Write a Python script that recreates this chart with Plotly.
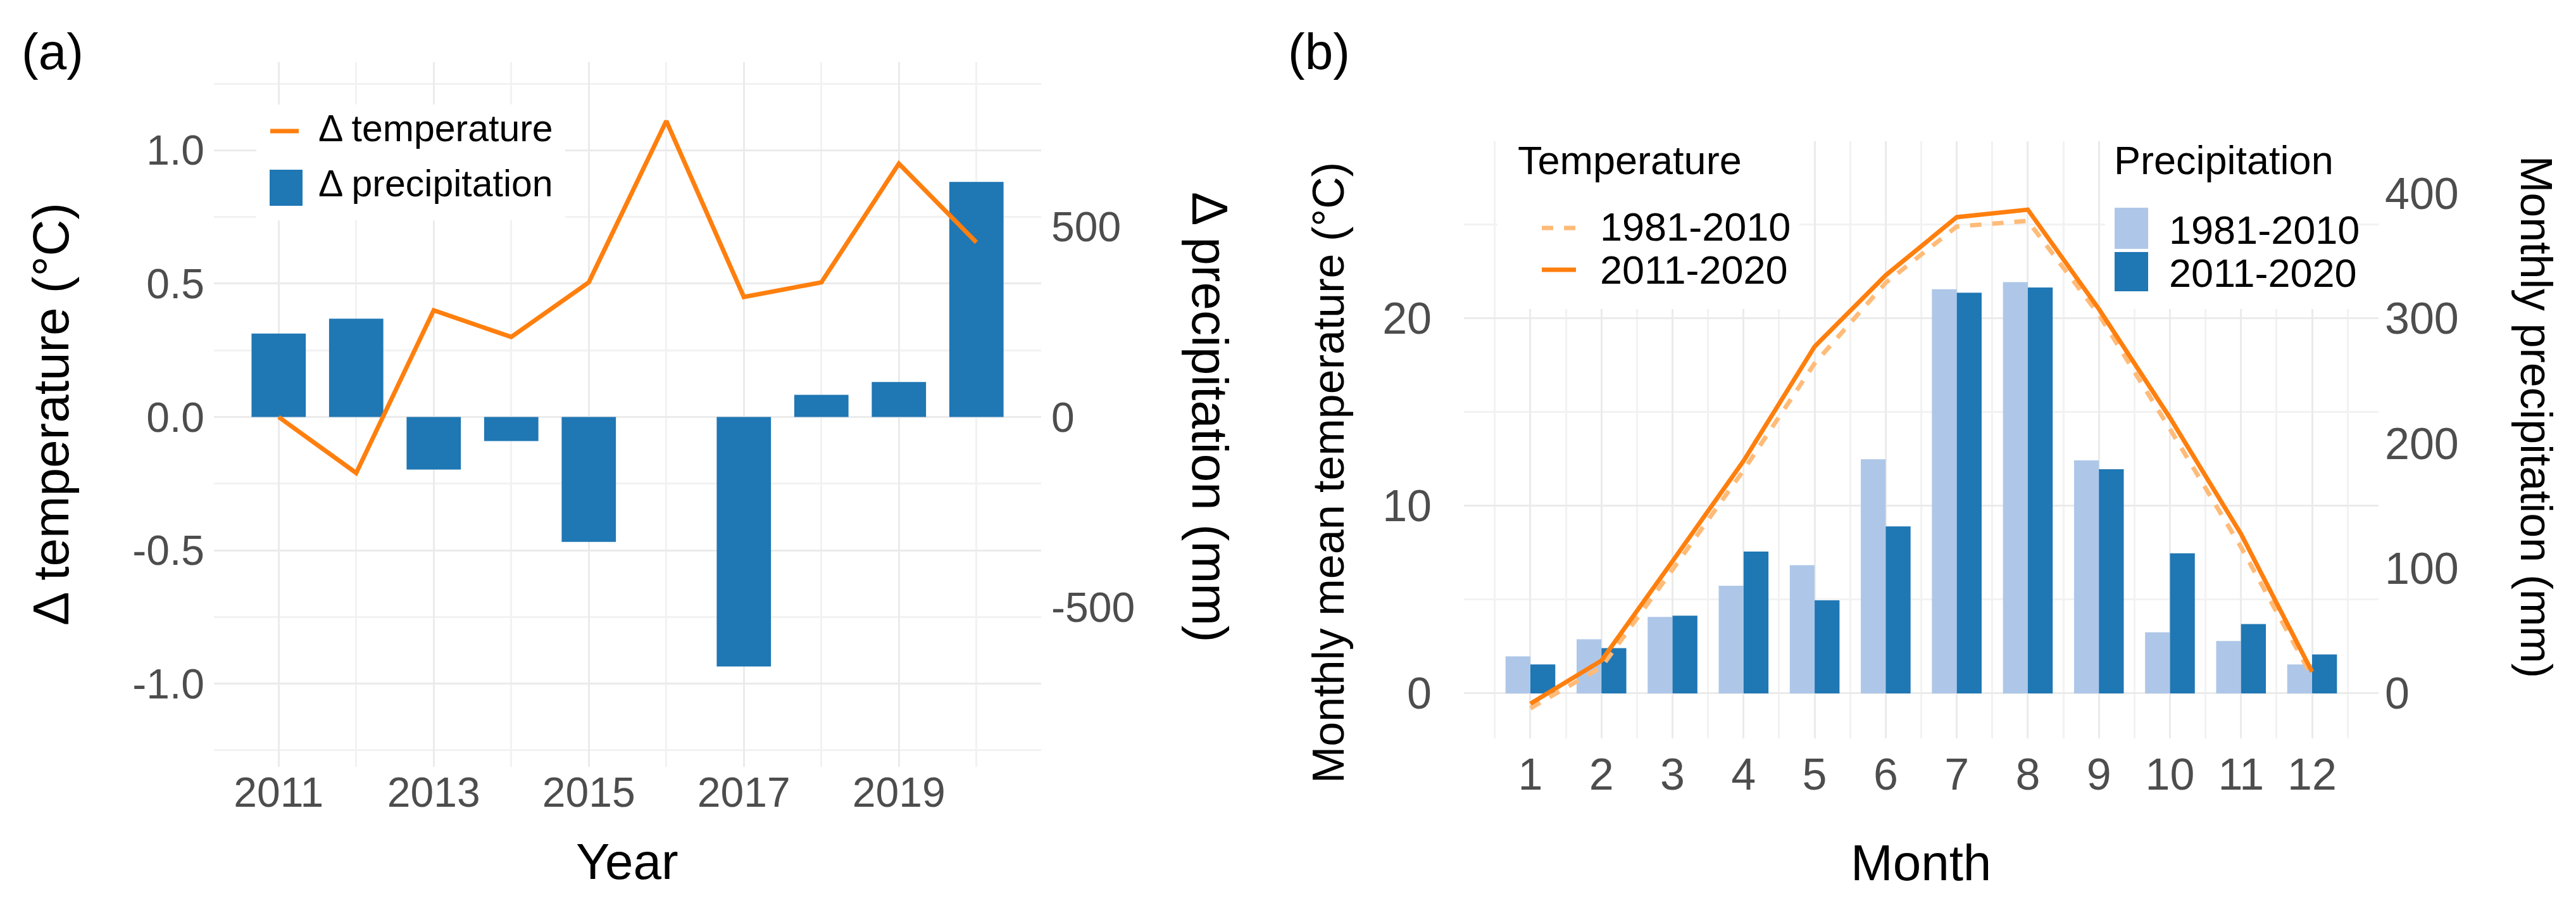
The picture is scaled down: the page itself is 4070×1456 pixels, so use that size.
import plotly.graph_objects as go

# ---------------- data ----------------
years = [2011, 2012, 2013, 2014, 2015, 2016, 2017, 2018, 2019, 2020]
delta_temperature = [0.00, -0.21, 0.40, 0.30, 0.505, 1.11, 0.45, 0.505, 0.95, 0.655]
delta_precipitation = [219, 258, -138, -63, -328, 0, -655, 58, 92, 617]

months = [1, 2, 3, 4, 5, 6, 7, 8, 9, 10, 11, 12]
temp_1981_2010 = [-0.8, 1.4, 6.6, 11.9, 17.6, 21.9, 24.9, 25.2, 20.2, 14.1, 7.8, 0.9]
temp_2011_2020 = [-0.55, 1.75, 7.05, 12.4, 18.5, 22.3, 25.4, 25.8, 20.5, 14.7, 8.5, 1.15]
prec_1981_2010 = [29.6, 43.3, 61.2, 86.1, 102.6, 187.3, 323.3, 329.0, 186.4, 48.9, 41.9, 23.1]
prec_2011_2020 = [23.1, 36.2, 62.1, 113.4, 74.4, 133.6, 320.5, 324.7, 179.3, 112.0, 55.5, 31.1]

a_temp_ticks = [-1.0, -0.5, 0.0, 0.5, 1.0]
a_temp_labels = ["-1.0", "-0.5", "0.0", "0.5", "1.0"]
a_prec_ticks = [-500, 0, 500]
a_prec_labels = ["-500", "0", "500"]
b_temp_ticks = [0, 10, 20]
b_prec_ticks = [0, 100, 200, 300, 400]

# ---------------- style ----------------
W, H = 4070, 1456
FONT = "Liberation Sans, Arial, Helvetica, sans-serif"
ORANGE = "#ff7f0e"
LIGHT_ORANGE = "#ffbb78"
BLUE = "#1f77b4"
LIGHT_BLUE = "#aec7e8"
GRID = "#ebebeb"
GRID_MINOR = "#f2f2f2"
TICK = "#4d4d4d"


def px(v):
    return v / W


def py(v):
    return 1 - v / H


fig = go.Figure()

# panel (a)
fig.add_trace(go.Bar(x=years, y=delta_precipitation, width=0.7, marker=dict(color=BLUE, line=dict(width=0)),
                     xaxis="x", yaxis="y", showlegend=False, name="Δ precipitation"))
fig.add_trace(go.Scatter(x=years, y=delta_temperature, mode="lines", line=dict(color=ORANGE, width=7),
                         xaxis="x", yaxis="y2", showlegend=False, name="Δ temperature"))

# panel (b)
fig.add_trace(go.Bar(x=months, y=prec_1981_2010, width=0.35, offset=-0.35,
                     marker=dict(color=LIGHT_BLUE, line=dict(width=0)),
                     xaxis="x2", yaxis="y3", showlegend=False, name="Precipitation 1981-2010"))
fig.add_trace(go.Bar(x=months, y=prec_2011_2020, width=0.35, offset=0.0,
                     marker=dict(color=BLUE, line=dict(width=0)),
                     xaxis="x2", yaxis="y3", showlegend=False, name="Precipitation 2011-2020"))
fig.add_trace(go.Scatter(x=months, y=temp_1981_2010, mode="lines",
                         line=dict(color=LIGHT_ORANGE, width=7, dash="18px,17px"),
                         xaxis="x2", yaxis="y4", showlegend=False, name="Temperature 1981-2010"))
fig.add_trace(go.Scatter(x=months, y=temp_2011_2020, mode="lines", line=dict(color=ORANGE, width=7),
                         xaxis="x2", yaxis="y4", showlegend=False, name="Temperature 2011-2020"))

# ---------------- axes ----------------
a_ylo, a_yhi = -1.312, 1.331
b_ylo, b_yhi = -2.40, 29.45
a_ratio = 700
b_ratio = 15

common = dict(showline=False, zeroline=False, ticks="", fixedrange=True)

fig.update_layout(
    xaxis=dict(domain=[px(330), px(1637)], range=[2010.165, 2020.835], anchor="y",
               tickmode="linear", tick0=2011, dtick=2,
               showgrid=True, gridcolor=GRID, gridwidth=3,
               minor=dict(tick0=2011, dtick=1, showgrid=True, gridcolor=GRID_MINOR, gridwidth=2.5),
               tickfont=dict(size=66, color=TICK, family=FONT), ticklabelstandoff=-4, **common),
    yaxis=dict(domain=[py(1203), py(90)], range=[a_ylo * a_ratio, a_yhi * a_ratio], anchor="x", side="right",
               tickmode="array", tickvals=a_prec_ticks, ticktext=a_prec_labels, showgrid=False,
               tickfont=dict(size=66, color=TICK, family=FONT), ticklabelstandoff=15, **common),
    yaxis2=dict(range=[a_ylo, a_yhi], overlaying="y", anchor="x", side="left",
                tickmode="array", tickvals=a_temp_ticks, ticktext=a_temp_labels,
                showgrid=True, gridcolor=GRID, gridwidth=3,
                minor=dict(tick0=0, dtick=0.25, showgrid=True, gridcolor=GRID_MINOR, gridwidth=2.5),
                tickfont=dict(size=66, color=TICK, family=FONT), ticklabelstandoff=14, **common),
    xaxis2=dict(domain=[px(2305), px(3750)], range=[0.065, 12.935], anchor="y3",
                tickmode="linear", tick0=1, dtick=1,
                showgrid=True, gridcolor=GRID, gridwidth=3,
                minor=dict(tick0=0.5, dtick=0.5, showgrid=True, gridcolor=GRID_MINOR, gridwidth=2.5),
                tickfont=dict(size=70, color=TICK, family=FONT), ticklabelstandoff=10, **common),
    yaxis3=dict(domain=[py(1158), py(215)], range=[b_ylo * b_ratio, b_yhi * b_ratio], anchor="x2", side="right",
                tickmode="array", tickvals=b_prec_ticks, showgrid=False,
                tickfont=dict(size=70, color=TICK, family=FONT), ticklabelstandoff=9, **common),
    yaxis4=dict(range=[b_ylo, b_yhi], overlaying="y3", anchor="x2", side="left",
                tickmode="array", tickvals=b_temp_ticks,
                showgrid=True, gridcolor=GRID, gridwidth=3,
                minor=dict(tick0=0, dtick=5, showgrid=True, gridcolor=GRID_MINOR, gridwidth=2.5),
                tickfont=dict(size=70, color=TICK, family=FONT), ticklabelstandoff=50, **common),
)

# ---------------- text ----------------
annotations = []


def text(s, x, y, size, angle=0, xanchor="center", color="black"):
    annotations.append(dict(text=s, x=px(x), y=py(y), xref="paper", yref="paper", showarrow=False,
                            xanchor=xanchor, yanchor="middle", textangle=angle,
                            font=dict(size=size, color=color, family=FONT)))


text("(a)", 75, 73, 80)
text("(b)", 2076, 73, 80)
text("Δ temperature (°C)", 72, 646, 80, angle=-90)
text("Δ precipitation (mm)", 1904, 650, 80, angle=90)
text("Year", 983, 1352, 80)
text("Monthly mean temperature (°C)", 2091, 739, 70, angle=-90)
text("Monthly precipitation (mm)", 3999, 650, 70, angle=90)
text("Month", 3027, 1354, 80)

# ---------------- legends (drawn as keys + labels) ----------------
shapes = []


def rect(x0, y0, x1, y1, color):
    shapes.append(dict(type="rect", xref="paper", yref="paper", x0=px(x0), x1=px(x1), y0=py(y0), y1=py(y1),
                       fillcolor=color, line=dict(width=0), layer="above"))


def hline(x0, x1, y, color, dash="solid"):
    shapes.append(dict(type="line", xref="paper", yref="paper", x0=px(x0), x1=px(x1), y0=py(y), y1=py(y),
                       line=dict(color=color, width=7, dash=dash), layer="above"))


# panel (a) legend
rect(397, 157, 885, 340, "white")
hline(419, 464, 199, ORANGE)
rect(418, 260, 470, 317, BLUE)
text("Δ temperature", 493, 195, 59, xanchor="left")
text("Δ precipitation", 493, 282, 59, xanchor="left")

# panel (b) temperature legend
rect(2358, 215, 2835, 480, "white")
text("Temperature", 2388, 245, 63, xanchor="left")
hline(2428, 2482, 352, LIGHT_ORANGE, dash="18px,17px")
hline(2428, 2482, 418, ORANGE)
text("1981-2010", 2518, 350, 63, xanchor="left")
text("2011-2020", 2518, 418, 63, xanchor="left")

# panel (b) precipitation legend
rect(3318, 215, 3712, 480, "white")
text("Precipitation", 3330, 245, 63, xanchor="left")
rect(3333, 320, 3386, 385, LIGHT_BLUE)
rect(3333, 390, 3386, 452, BLUE)
text("1981-2010", 3417, 355, 63, xanchor="left")
text("2011-2020", 3417, 423, 63, xanchor="left")

fig.update_layout(
    width=W, height=H,
    margin=dict(l=0, r=0, t=0, b=0),
    paper_bgcolor="white", plot_bgcolor="white",
    barmode="overlay",
    font=dict(family=FONT, color="black"),
    annotations=annotations,
    shapes=shapes,
    showlegend=False,
)

fig.write_html("out.html")
